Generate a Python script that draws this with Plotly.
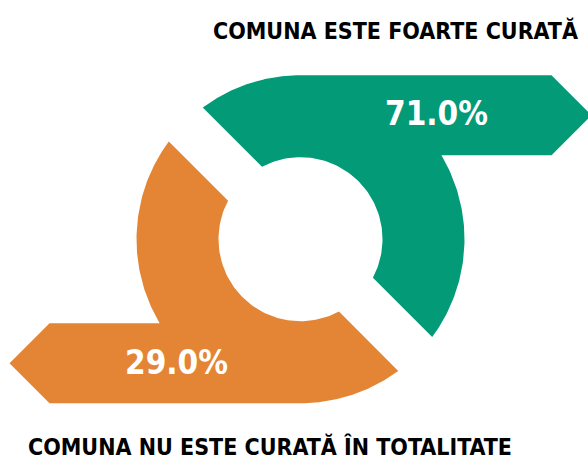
import numpy as np
import plotly.graph_objects as go

# Survey answers and their shares
categories = ["COMUNA ESTE FOARTE CURATĂ", "COMUNA NU ESTE CURATĂ ÎN TOTALITATE"]
values = [71.0, 29.0]
colors = ["#039A78", "#E38535"]

W, H = 588, 459
CX, CY = 300.5, 239.2          # ring centre (pixel space, y grows downward)
R_OUT, R_IN = 164.0, 82.0      # ring radii
GAP = 24.0                     # half-width of the diagonal gap
BAND = 80.0                    # height of the arrow banner
CORNER = 251.0                 # banner length from the ring centre
TIP = 40.0                     # depth of the arrow point


def arc(r, a0, a1, n=80):
    t = np.linspace(a0, a1, n)
    return list(r * np.cos(t)), list(r * np.sin(t))


def piece():
    """Half ring with a banner arrow, in local coords (u right, v down)."""
    s = GAP * np.sqrt(2)
    # gap edge v = u - s meets the outer / inner circles
    d_out = np.sqrt(2 * R_OUT**2 - s**2)
    d_in = np.sqrt(2 * R_IN**2 - s**2)
    u1 = (s - d_out) / 2; v1 = u1 - s
    u2 = (s + d_out) / 2; v2 = u2 - s
    u3 = (s + d_in) / 2;  v3 = u3 - s
    u4 = (s - d_in) / 2;  v4 = u4 - s

    us, vs = [], []
    a, b = arc(R_OUT, np.arctan2(v1, u1), -np.pi / 2)
    us += a; vs += b
    top, bot = -R_OUT, -R_OUT + BAND
    us += [CORNER, CORNER + TIP, CORNER]
    vs += [top, top + BAND / 2, bot]
    ub = np.sqrt(R_OUT**2 - bot**2)
    a, b = arc(R_OUT, np.arctan2(bot, ub), np.arctan2(v2, u2))
    us += a; vs += b
    a, b = arc(R_IN, np.arctan2(v3, u3), np.arctan2(v4, u4))
    us += a; vs += b
    us.append(us[0]); vs.append(vs[0])
    return np.array(us), np.array(vs)


u, v = piece()
shapes_xy = [(CX + u, CY + v), (CX - u, CY - v)]
label_pos = [(436, 113), (176, 362)]
title_pos = [dict(x=580, y=30, xanchor="right"), dict(x=26, y=446, xanchor="left")]

fig = go.Figure()
for (xs, ys), col in zip(shapes_xy, colors):
    fig.add_trace(go.Scatter(x=xs, y=ys, mode="lines", fill="toself",
                             fillcolor=col, line=dict(width=0, color=col),
                             hoverinfo="skip", showlegend=False))

font_family = "DejaVu Sans Condensed, DejaVu Sans, sans-serif"
for val, (lx, ly) in zip(values, label_pos):
    fig.add_annotation(x=lx, y=ly, text=f"<b>{val:.1f}%</b>", showarrow=False,
                       xanchor="center", yanchor="middle",
                       font=dict(family=font_family, size=33, color="white"))
for cat, pos in zip(categories, title_pos):
    fig.add_annotation(x=pos["x"], y=pos["y"], text=f"<b>{cat}</b>", showarrow=False,
                       xanchor=pos["xanchor"], yanchor="middle",
                       font=dict(family=font_family, size=23, color="black"))

fig.update_xaxes(range=[0, W], visible=False, fixedrange=True)
fig.update_yaxes(range=[H, 0], visible=False, fixedrange=True)
fig.update_layout(width=W, height=H, margin=dict(l=0, r=0, t=0, b=0),
                  plot_bgcolor="white", paper_bgcolor="white")
fig.write_html("out.html")
